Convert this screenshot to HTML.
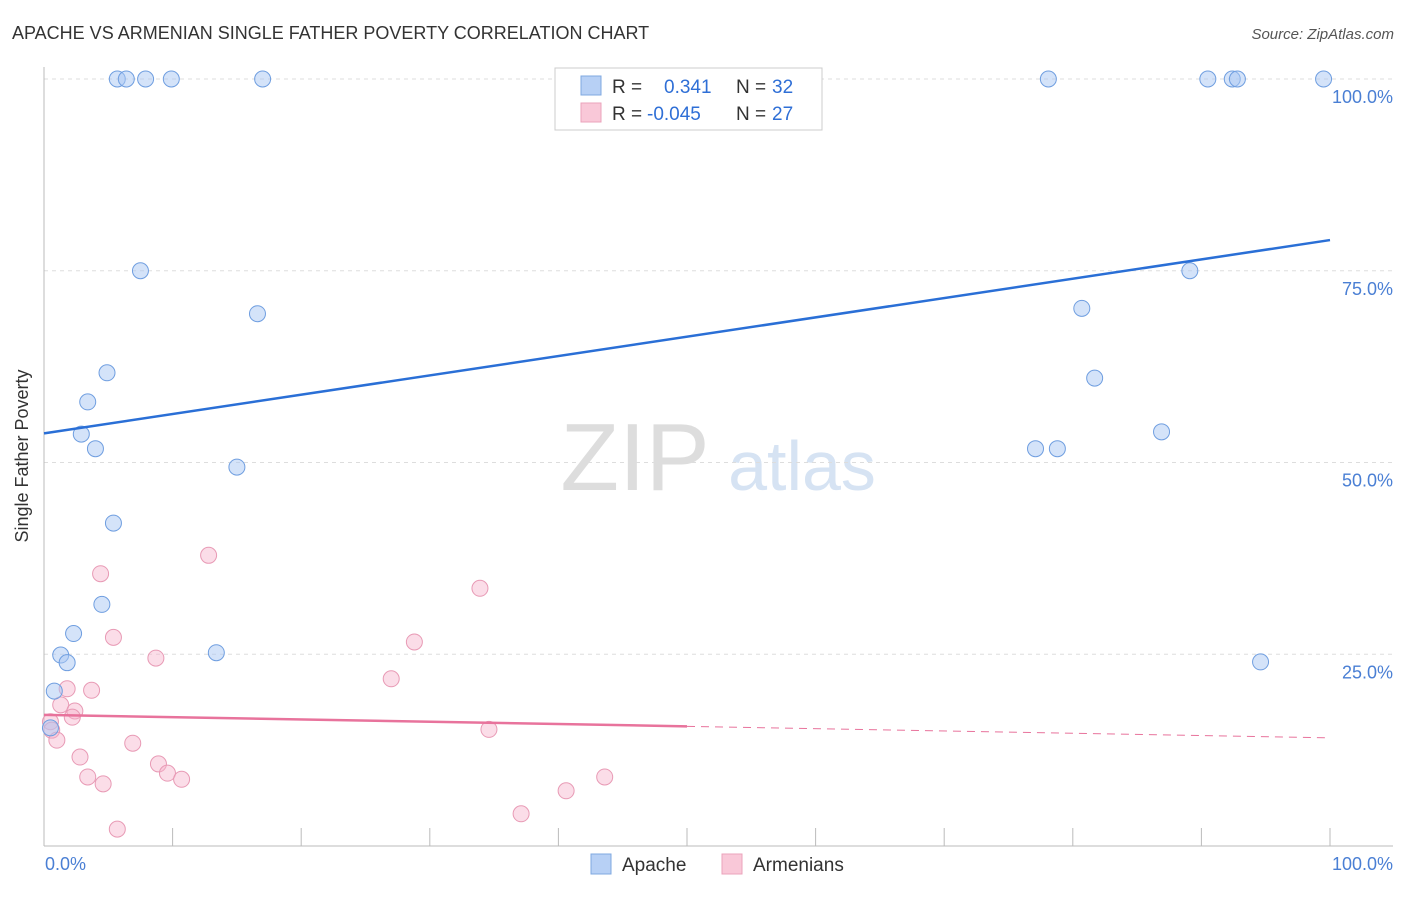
<!DOCTYPE html>
<html><head><meta charset="utf-8"><style>
body{margin:0;background:#fff;font-family:"Liberation Sans",sans-serif;}
svg text{font-family:"Liberation Sans",sans-serif;}
</style></head><body>
<svg id="chart" width="1406" height="892" xmlns="http://www.w3.org/2000/svg">
<text x="12" y="39" font-size="18" fill="#333">APACHE VS ARMENIAN SINGLE FATHER POVERTY CORRELATION CHART</text>
<text x="1394" y="39" font-size="15" fill="#555" font-style="italic" text-anchor="end">Source: ZipAtlas.com</text>
<text x="28" y="456" font-size="18" fill="#333" text-anchor="middle" transform="rotate(-90 28 456)">Single Father Poverty</text>
<g>
<text x="635" y="490" font-size="96" fill="#ddd" font-family="Liberation Serif" text-anchor="middle">ZIP</text>
<text x="802" y="490" font-size="70" fill="#d6e3f3" text-anchor="middle">atlas</text>
</g>
<g id="grid"></g><g id="axes"></g><g id="marks"></g>
<g>
<rect x="555" y="68" width="267" height="62" fill="#fff" stroke="#ccc"/>
<rect x="581" y="76" width="20" height="19" fill="#b7d0f5" stroke="#7fa8e0"/>
<rect x="581" y="103" width="20" height="19" fill="#f9c8d8" stroke="#eba3bb"/>
<text x="612" y="93" font-size="19" fill="#333">R = </text><text x="664" y="93" font-size="19" fill="#2f6fd6">0.341</text>
<text x="736" y="93" font-size="19" fill="#333">N = </text><text x="772" y="93" font-size="19" fill="#2f6fd6">32</text>
<text x="612" y="120" font-size="19" fill="#333">R = </text><text x="647" y="120" font-size="19" fill="#2f6fd6">-0.045</text>
<text x="736" y="120" font-size="19" fill="#333">N = </text><text x="772" y="120" font-size="19" fill="#2f6fd6">27</text>
</g>
<g>
<rect x="591" y="854" width="20" height="20" fill="#b7d0f5" stroke="#7fa8e0"/>
<text x="622" y="871" font-size="19" fill="#333">Apache</text>
<rect x="722" y="854" width="20" height="20" fill="#f9c8d8" stroke="#eba3bb"/>
<text x="753" y="871" font-size="19" fill="#333">Armenians</text>
</g>
</svg>
<script>
const apacheX=[5.7,6.4,7.9,9.9,17.0,78.1,90.5,92.4,92.8,99.5,7.5,16.6,4.9,3.4,2.9,4.0,15.0,5.4,4.5,2.3,1.3,1.8,13.4,0.8,0.5,89.1,80.7,81.7,86.9,77.1,78.8,94.6];
const apacheY=[100,100,100,100,100,100,100,100,100,100,75,69.4,61.7,57.9,53.7,51.8,49.4,42.1,31.5,27.7,24.9,23.9,25.2,20.2,15.4,75,70.1,61.0,54.0,51.8,51.8,24.0];
const armX=[4.4,12.8,5.4,8.7,33.9,28.8,27.0,1.8,3.7,1.3,2.4,2.2,0.5,0.6,1.0,2.8,6.9,8.9,9.6,10.7,3.4,4.6,43.6,40.6,37.1,5.7,34.6];
const armY=[35.5,37.9,27.2,24.5,33.6,26.6,21.8,20.5,20.3,18.4,17.6,16.8,16.2,15.1,13.8,11.6,13.4,10.7,9.5,8.7,9.0,8.1,9.0,7.2,4.2,2.2,15.2];
const apacheTrend=[53.8,79.0];
const armTrend=[17.1,14.1];
const yTicks=[25,50,75,100];
const yTickLabels=["25.0%","50.0%","75.0%","100.0%"];
const xTicks=[0,10,20,30,40,50,60,70,80,90,100];
const xEndLabels=["0.0%","100.0%"];
const NS="http://www.w3.org/2000/svg";
const sx=v=>44+v*12.86, sy=v=>846-v*7.67;
function mk(t,a,p){const e=document.createElementNS(NS,t);for(const k in a)e.setAttribute(k,a[k]);p.appendChild(e);return e;}
const grid=document.getElementById('grid'),axes=document.getElementById('axes'),marks=document.getElementById('marks');
yTicks.forEach((v,i)=>{
 const l=mk('line',{x1:44,x2:1393,y1:sy(v),y2:sy(v),stroke:'#ddd','stroke-dasharray':'4,4'},grid);
 
 
 const t=mk('text',{x:1393,y:sy(v)+24,'font-size':18,fill:'#4a7fd4','text-anchor':'end'},axes);
 t.textContent=yTickLabels[i];
 
 
});
mk('line',{x1:44,x2:44,y1:67,y2:846,stroke:'#bbb'},axes);
mk('line',{x1:44,x2:1393,y1:846,y2:846,stroke:'#bbb'},axes);
xTicks.forEach(v=>{const l=mk('line',{x1:sx(v),x2:sx(v),y1:828,y2:846,stroke:'#bbb'},axes);
 
 });
const t0=mk('text',{x:45,y:870,'font-size':18,fill:'#4a7fd4'},axes);t0.textContent=xEndLabels[0];


const t1=mk('text',{x:1393,y:870,'font-size':18,fill:'#4a7fd4','text-anchor':'end'},axes);t1.textContent=xEndLabels[1];


armX.forEach((x,i)=>{const c=mk('circle',{cx:sx(x),cy:sy(armY[i]),r:8,fill:'rgba(246,180,203,0.45)',stroke:'#e89ab5','stroke-width':1},marks);
 
 });
apacheX.forEach((x,i)=>{const c=mk('circle',{cx:sx(x),cy:sy(apacheY[i]),r:8,fill:'rgba(170,200,243,0.5)',stroke:'#6f9ee0','stroke-width':1},marks);
 
 });
const bl=mk('line',{x1:sx(0),y1:sy(apacheTrend[0]),x2:sx(100),y2:sy(apacheTrend[1]),stroke:'#2a6fd6','stroke-width':2.5},marks);


const pm=armTrend[0]+(armTrend[1]-armTrend[0])*0.5;
const pl=mk('line',{x1:sx(0),y1:sy(armTrend[0]),x2:sx(50),y2:sy(pm),stroke:'#e8739c','stroke-width':2.5},marks);


const pd=mk('line',{x1:sx(50),y1:sy(pm),x2:sx(100),y2:sy(armTrend[1]),stroke:'#e8739c','stroke-width':1,'stroke-dasharray':'8,6'},marks);


</script>
</body></html>
